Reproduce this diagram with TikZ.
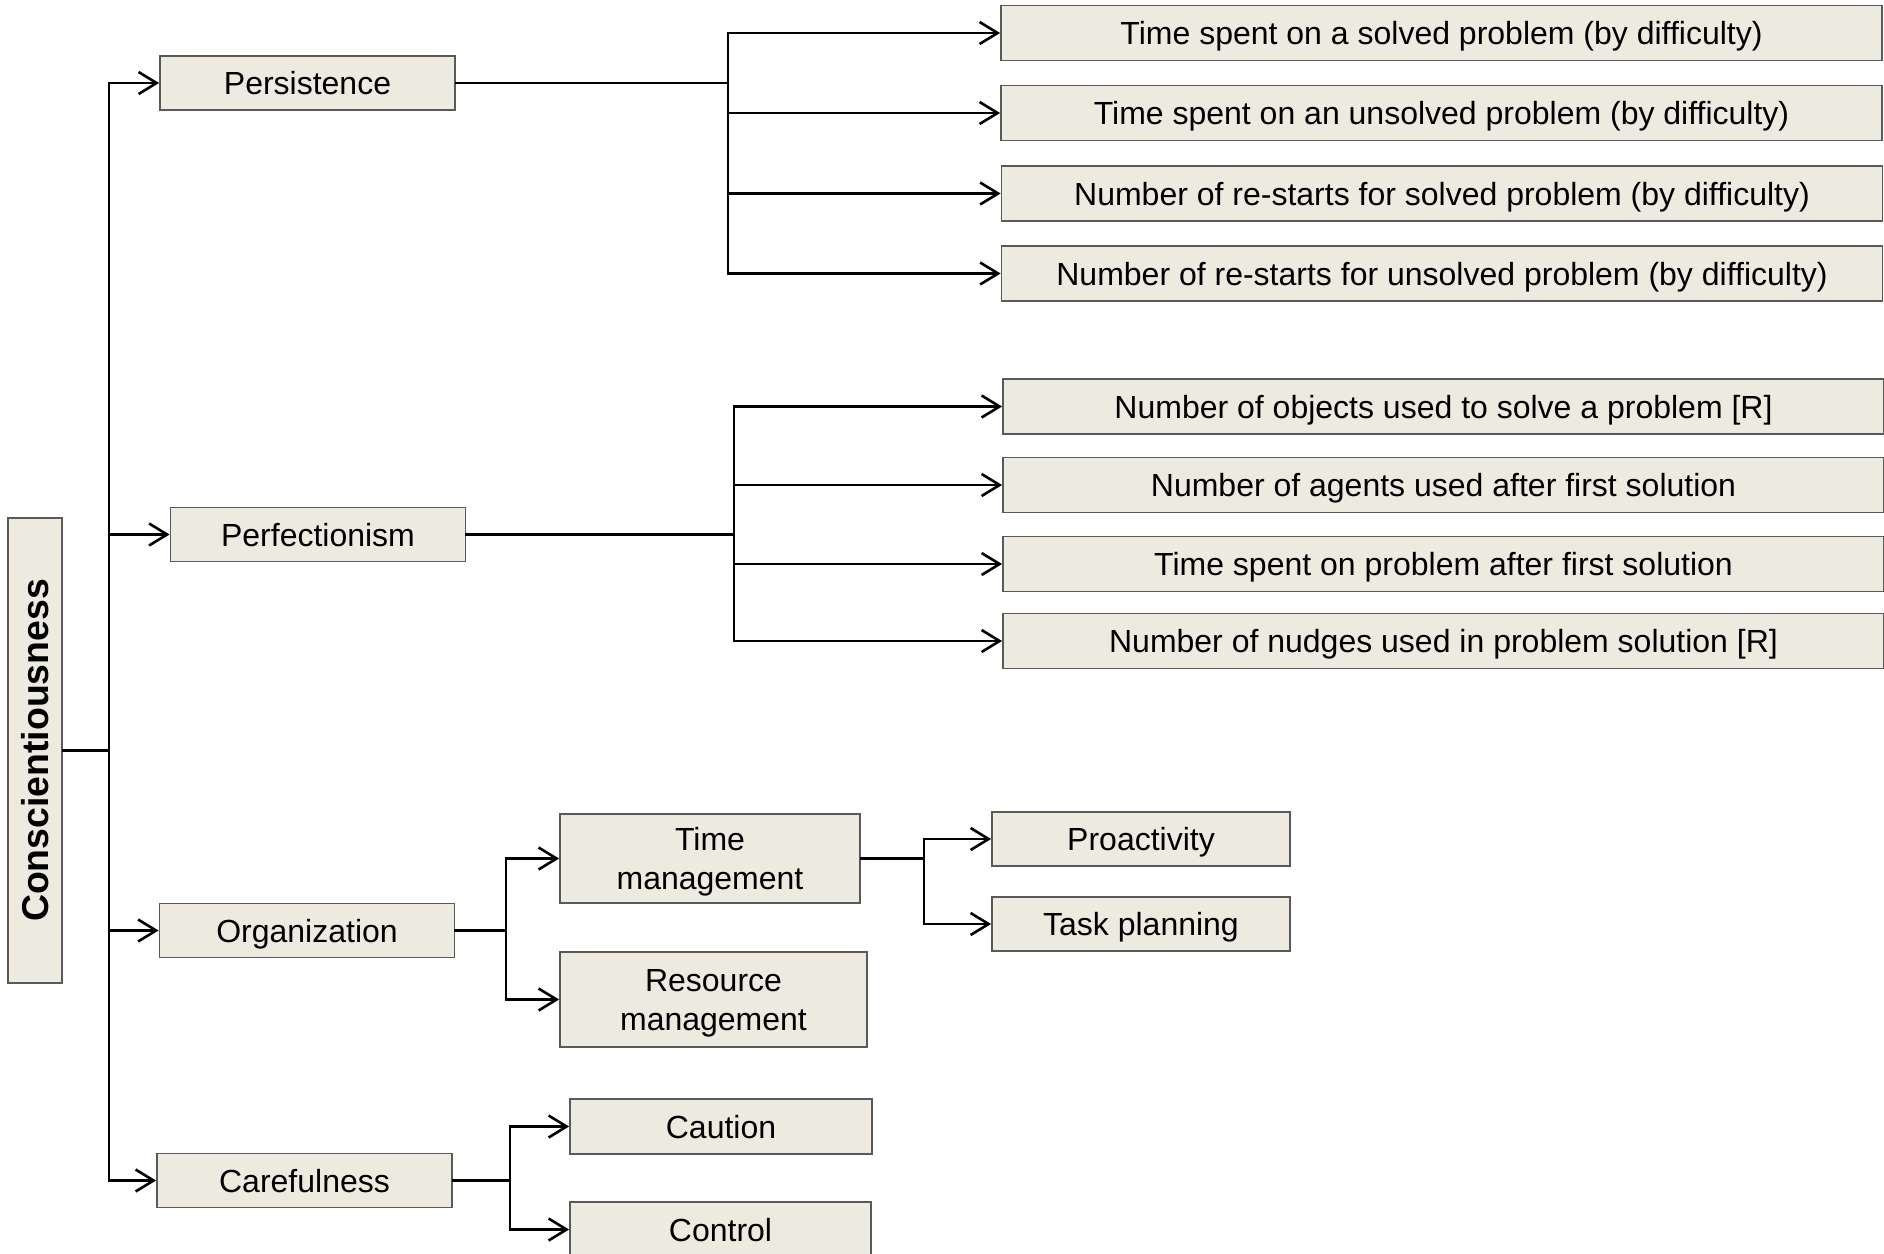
\documentclass[tikz,border=0pt]{standalone}
\usepackage{fontspec}
\setmainfont{Liberation Sans}
\usetikzlibrary{arrows.meta}
\definecolor{boxfill}{HTML}{EDEBE0}
\definecolor{boxline}{HTML}{595959}
\begin{document}
\begin{tikzpicture}[x=0.5pt,y=-0.5pt,
  box/.style={draw=boxline, fill=boxfill, line width=0.9pt, inner sep=0pt,
    text depth=0pt, font=\fontsize{16}{19.5}\selectfont, align=center, text=black},
  lone/.style={box, minimum width=147.5pt, minimum height=27pt},
  leaf/.style={box, minimum width=440.5pt, minimum height=27.5pt},
  small/.style={box, minimum width=149pt, minimum height=27pt},
  link/.style={line width=1.3pt, draw=black, line cap=rect},
  arr/.style={line width=1.3pt, draw=black,
    -{Straight Barb[length=9pt,width=11pt,line width=1.3pt]}}
]
\useasboundingbox (0,0) rectangle (1884,1253);
\clip (0,0) rectangle (1884,1253);

% root
\node[box, rotate=90, minimum width=232.5pt, minimum height=27pt,
  font=\bfseries\fontsize{18.7}{22}\selectfont] (root) at (35,750.5) {Conscientiousness};

% facets
\node[lone] (pers) at (307.5,83)   {Persistence};
\node[lone] (perf) at (318,534.5)  {Perfectionism};
\node[lone] (org)  at (307,930.5)  {Organization};
\node[lone] (care) at (304.5,1180.5) {Carefulness};

% persistence indicators
\node[leaf] (p1) at (1441.5,33)    {Time spent on a solved problem (by difficulty)};
\node[leaf] (p2) at (1441.5,113)   {Time spent on an unsolved problem (by difficulty)};
\node[leaf] (p3) at (1442,193.5)   {Number of re-starts for solved problem (by difficulty)};
\node[leaf] (p4) at (1442,273.5)   {Number of re-starts for unsolved problem (by difficulty)};

% perfectionism indicators
\node[leaf] (q1) at (1443.5,406.5) {Number of objects used to solve a problem [R]};
\node[leaf] (q2) at (1443.5,485)   {Number of agents used after first solution};
\node[leaf] (q3) at (1443.5,564)   {Time spent on problem after first solution};
\node[leaf] (q4) at (1443.5,641)   {Number of nudges used in problem solution [R]};

% organization
\node[box, minimum width=150pt, minimum height=44.5pt] (tm) at (710,858.5) {Time\\management};
\node[box, minimum width=153.5pt, minimum height=47.5pt] (rm) at (713.5,999.5) {Resource\\management};
\node[small] (pro) at (1141,839) {Proactivity};
\node[small] (tp)  at (1141,924) {Task planning};

% carefulness
\node[box, minimum width=151pt, minimum height=27.5pt] (cau) at (721,1126.5) {Caution};
\node[box, minimum width=150.5pt, minimum height=27.5pt] (ctl) at (720.5,1229.5) {Control};

% branch columns
\coordinate (trunk) at (109,0);
\coordinate (pbr) at (728,0);
\coordinate (qbr) at (734,0);
\coordinate (obr) at (506,0);
\coordinate (tbr) at (924,0);
\coordinate (cbr) at (510,0);

% trunk
\draw[link] (pers.west -| trunk) -- (care.west -| trunk);
\draw[link] (root.south) -- (root.south -| trunk);
\foreach \n in {pers,perf,org,care}
  \draw[arr] (\n.west -| trunk) -- (\n.west);

% persistence
\draw[link] (pers.east) -- (pers.east -| pbr);
\draw[link] (p1.west -| pbr) -- (p4.west -| pbr);
\foreach \n in {p1,p2,p3,p4}
  \draw[arr] (\n.west -| pbr) -- (\n.west);

% perfectionism
\draw[link] (perf.east) -- (perf.east -| qbr);
\draw[link] (q1.west -| qbr) -- (q4.west -| qbr);
\foreach \n in {q1,q2,q3,q4}
  \draw[arr] (\n.west -| qbr) -- (\n.west);

% organization
\draw[link] (org.east) -- (org.east -| obr);
\draw[link] (tm.west -| obr) -- (rm.west -| obr);
\foreach \n in {tm,rm}
  \draw[arr] (\n.west -| obr) -- (\n.west);
\draw[link] (tm.east) -- (tm.east -| tbr);
\draw[link] (pro.west -| tbr) -- (tp.west -| tbr);
\foreach \n in {pro,tp}
  \draw[arr] (\n.west -| tbr) -- (\n.west);

% carefulness
\draw[link] (care.east) -- (care.east -| cbr);
\draw[link] (cau.west -| cbr) -- (ctl.west -| cbr);
\foreach \n in {cau,ctl}
  \draw[arr] (\n.west -| cbr) -- (\n.west);
\end{tikzpicture}
\end{document}
